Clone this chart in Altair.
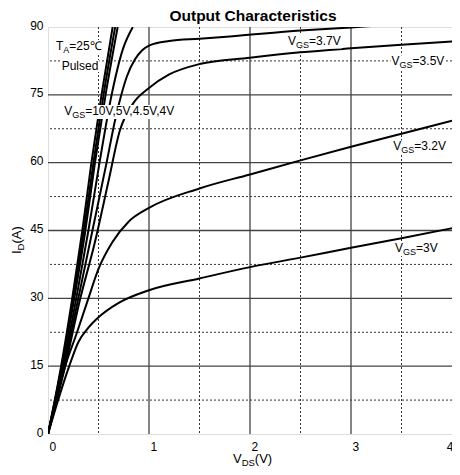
import altair as alt
import pandas as pd

FONT = "Liberation Sans"

# ---- axis / grid values ----
x_ticks = [0, 1, 2, 3, 4]
y_ticks = [0, 15, 30, 45, 60, 75, 90]
x_major = [1, 2, 3]
x_minor = [0.5, 1.5, 2.5, 3.5]
y_major = [15, 30, 45, 60, 75]
y_minor = [7.5, 22.5, 37.5, 52.5, 67.5, 82.5]

# ---- curves ----
v10_x = [0, 0.13, 0.24, 0.34, 0.43, 0.53, 0.64]
v10_y = [0, 15, 30, 45, 60, 75, 90]
v5_x = [0, 0.135, 0.25, 0.355, 0.45, 0.55, 0.665]
v5_y = [0, 15, 30, 45, 60, 75, 90]
v45_x = [0, 0.14, 0.26, 0.37, 0.465, 0.57, 0.69]
v45_y = [0, 15, 30, 45, 60, 75, 90]
v4_x = [0, 0.15, 0.28, 0.40, 0.51, 0.63, 0.74, 0.84]
v4_y = [0, 15, 30, 45, 60, 75, 85, 90]
v37_x = [0, 0.16, 0.30, 0.44, 0.58, 0.67, 0.72, 0.78, 0.86, 0.93, 1.0, 1.2, 1.5, 1.8, 2.5, 3.0, 3.2]
v37_y = [0, 15, 30, 45, 60, 70, 74.5, 79, 82.8, 84.8, 85.9, 86.9, 87.4, 87.9, 89.2, 89.9, 90.2]
v35_x = [0, 0.17, 0.32, 0.46, 0.60, 0.71, 0.84, 1.0, 1.2, 1.5, 2.0, 2.5, 3.0, 3.5, 4.0]
v35_y = [0, 15, 30, 42, 56, 67, 73, 76.5, 79.5, 81.8, 83.2, 84.4, 85.3, 86.1, 86.8]
v32_x = [0, 0.08, 0.17, 0.28, 0.40, 0.50, 0.64, 0.80, 1.0, 1.5, 2.0, 2.5, 3.0, 3.5, 4.0]
v32_y = [0, 7.5, 15, 22, 30, 36.5, 42.5, 47, 50, 54.3, 57.4, 60.5, 63.5, 66.4, 69.3]
v3_x = [0, 0.10, 0.21, 0.30, 0.40, 0.50, 0.70, 1.0, 1.5, 2.0, 2.5, 3.0, 3.5, 4.0]
v3_y = [0, 7.5, 15, 20.3, 23.5, 25.8, 29, 31.8, 34.4, 36.9, 39, 41.2, 43.3, 45.5]

curves = {
    "10V": (v10_x, v10_y), "5V": (v5_x, v5_y), "4.5V": (v45_x, v45_y),
    "4V": (v4_x, v4_y), "3.7V": (v37_x, v37_y), "3.5V": (v35_x, v35_y),
    "3.2V": (v32_x, v32_y), "3V": (v3_x, v3_y),
}
rows = []
for name, (xs_, ys_) in curves.items():
    for i, (a, b) in enumerate(zip(xs_, ys_)):
        rows.append({"series": name, "vds": a, "id": b, "i": i})
df = pd.DataFrame(rows)

# ---- annotations: (x, y, prefix, sub, suffix) ----
annotations = [
    (2.377, 87.0, "V", "GS", "=3.7V"),
    (3.402, 82.4, "V", "GS", "=3.5V"),
    (3.419, 63.6, "V", "GS", "=3.2V"),
    (3.435, 41.1, "V", "GS", "=3V"),
    (0.16, 71.4, "V", "GS", "=10V,5V,4.5V,4V"),
    (0.079, 85.8, "T", "A", "=25\u2103"),
]
plain_notes = [(0.135, 81.4, "Pulsed")]

EM = {"V": 0.667, "G": 0.778, "S": 0.667, "T": 0.611, "A": 0.667,
      "I": 0.278, "D": 0.722, ".": 0.278, ",": 0.278, "=": 0.584,
      "\u2103": 0.9, "P": 0.667, "u": 0.556, "l": 0.222, "s": 0.5,
      "e": 0.556, "d": 0.556, "(": 0.333, ")": 0.333}


def tw(s, size):
    return sum(EM.get(c, 0.556) for c in s) * size


xs = alt.Scale(domain=[0, 4], nice=False, zero=False)
ys = alt.Scale(domain=[0, 90], nice=False, zero=False)

W, H = 404, 407


def rules_x(vals, dash, color, width):
    return alt.Chart(pd.DataFrame({"v": vals})).mark_rule(
        strokeDash=dash, color=color, strokeWidth=width
    ).encode(x=alt.X("v:Q", scale=xs))


def rules_y(vals, dash, color, width):
    return alt.Chart(pd.DataFrame({"v": vals})).mark_rule(
        strokeDash=dash, color=color, strokeWidth=width
    ).encode(y=alt.Y("v:Q", scale=ys))


minor_x = rules_x(x_minor, [2, 2], "#333333", 1)
minor_y = rules_y(y_minor, [2, 2], "#333333", 1)
major_x = rules_x(x_major, [1, 0], "#444444", 1.3)
major_y = rules_y(y_major, [1, 0], "#444444", 1.3)

lines = alt.Chart(df).mark_line(color="black", strokeWidth=2, clip=True,
                                interpolate="monotone").encode(
    x=alt.X("vds:Q", scale=xs,
            axis=alt.Axis(values=x_ticks, title=None, grid=False, ticks=False,
                          domain=False, labelFont=FONT, labelFontSize=12,
                          labelColor="black", labelPadding=7,
                          labelAlign=alt.condition("datum.value == 4",
                                                   alt.value("right"),
                                                   alt.value("left")),
                          labelOffset=1, format="d")),
    y=alt.Y("id:Q", scale=ys,
            axis=alt.Axis(values=y_ticks, title=None, grid=False, ticks=False,
                          domain=False, labelFont=FONT, labelFontSize=12,
                          labelColor="black", labelPadding=5, labelOffset=-2,
                          format="d")),
    detail="series:N",
    order="i:Q",
)

boxes = []
texts = []
MAIN, SUB = 12, 9
for (ax, ay, pre, sub, suf) in annotations:
    w1 = tw(pre, MAIN)
    w2 = tw(sub, SUB)
    w3 = tw(suf, MAIN)
    common = dict(x=alt.datum(ax, scale=xs), y=alt.datum(ay, scale=ys))
    boxes.append(alt.Chart().mark_rect(color="white", xOffset=-1,
                                       x2Offset=w1 + w2 + w3 + 1,
                                       yOffset=-6, y2Offset=8).encode(
        x=alt.datum(ax, scale=xs), x2=alt.datum(ax),
        y=alt.datum(ay, scale=ys), y2=alt.datum(ay)))
    texts.append(alt.Chart().mark_text(text=pre, align="left", baseline="middle",
                                       font=FONT, fontSize=MAIN, color="black").encode(**common))
    texts.append(alt.Chart().mark_text(text=sub, align="left", baseline="middle",
                                       font=FONT, fontSize=SUB, color="black",
                                       dx=w1, dy=4).encode(**common))
    texts.append(alt.Chart().mark_text(text=suf, align="left", baseline="middle",
                                       font=FONT, fontSize=MAIN, color="black",
                                       dx=w1 + w2).encode(**common))
for (ax, ay, t) in plain_notes:
    boxes.append(alt.Chart().mark_rect(color="white", xOffset=-1,
                                       x2Offset=tw(t, MAIN) + 1,
                                       yOffset=-6, y2Offset=6).encode(
        x=alt.datum(ax, scale=xs), x2=alt.datum(ax),
        y=alt.datum(ay, scale=ys), y2=alt.datum(ay)))
    texts.append(alt.Chart().mark_text(text=t, align="left", baseline="middle",
                                       font=FONT, fontSize=MAIN, color="black").encode(
        x=alt.datum(ax, scale=xs), y=alt.datum(ay, scale=ys)))

# title and axis titles
title = alt.Chart().mark_text(text="Output Characteristics", align="center",
                              baseline="top", font=FONT, fontSize=15.5,
                              fontWeight="bold", color="black").encode(
    x=alt.value(W / 2 + 3), y=alt.value(-18.5))

XT, XS = 13, 9.5
xt_parts = [
    ("V", XT, 0, 0),
    ("DS", XS, tw("V", XT), 4),
    ("(V)", XT, tw("V", XT) + tw("DS", XS), 0),
]
for t, s, dx, dy in xt_parts:
    texts.append(alt.Chart().mark_text(text=t, align="left", baseline="middle",
                                       font=FONT, fontSize=s, color="black",
                                       dx=dx, dy=dy).encode(
        x=alt.value(185), y=alt.value(432)))

yt_parts = [
    ("I", XT, 0, 0),
    ("D", XS, tw("I", XT), 4),
    ("(A)", XT, tw("I", XT) + tw("D", XS), 0),
]
for t, s, dx, dy in yt_parts:
    texts.append(alt.Chart().mark_text(text=t, align="left", baseline="middle",
                                       font=FONT, fontSize=s, color="black",
                                       angle=270, dx=dx, dy=dy).encode(
        x=alt.value(-31), y=alt.value(227)))

chart = alt.layer(
    minor_x, minor_y, major_x, major_y, lines, *boxes, title, *texts
).properties(
    width=W, height=H,
    autosize=alt.AutoSizeParams(type="none"),
    padding={"left": 40, "top": 19, "right": 0, "bottom": 33},
).configure_view(
    stroke="#222222", strokeWidth=1.5
).configure(background="white")

chart.save("out.html", embed_options={"renderer": "svg", "actions": False})
